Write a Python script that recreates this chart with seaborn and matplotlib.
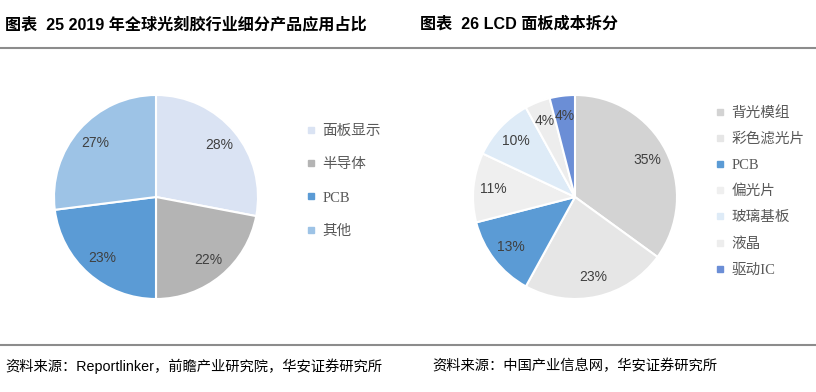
"""
Two pie charts side by side: photoresist application split (2019) and
LCD panel cost breakdown. Saves out.png (816x392).
"""

import matplotlib
matplotlib.use("Agg")
import matplotlib.pyplot as plt
from matplotlib.lines import Line2D
import seaborn as sns

# ── data ──────────────────────────────────────────────────────────────────────
resist_labels = ["面板显示", "半导体", "PCB", "其他"]
resist_values = [28, 22, 23, 27]
resist_colors = ["#DAE3F3", "#B4B4B4", "#5B9BD5", "#9DC3E6"]

lcd_labels = ["背光模组", "彩色滤光片", "PCB", "偏光片", "玻璃基板", "液晶", "驱动IC"]
lcd_values = [35, 23, 13, 11, 10, 4, 4]
lcd_colors = ["#D3D3D3", "#E6E6E6", "#5B9BD5", "#EFEFEF", "#DEEBF7", "#EDEDED", "#6B8ED6"]

title_left = "图表  25 2019 年全球光刻胶行业细分产品应用占比"
title_right = "图表  26 LCD 面板成本拆分"
source_left = "资料来源：Reportlinker，前瞻产业研究院，华安证券研究所"
source_right = "资料来源：中国产业信息网，华安证券研究所"

# ── style ─────────────────────────────────────────────────────────────────────
sns.set_theme(style="white")
SANS = ["Liberation Sans", "Noto Sans CJK SC"]
SERIF = ["Liberation Serif", "Noto Sans CJK SC"]
plt.rcParams["font.family"] = SANS

W, H = 816, 392
fig = plt.figure(figsize=(W / 100, H / 100), dpi=100, facecolor="white")


def px_axes(cx, cy, r):
    """Square axes centred on pixel (cx, cy) with radius r (pixels from top-left)."""
    return fig.add_axes([(cx - r) / W, (H - cy - r) / H, 2 * r / W, 2 * r / H])


def draw_pie(ax, values, colors):
    ax.pie(
        values, colors=colors, startangle=90, counterclock=False,
        autopct=lambda p: f"{p:.0f}%", pctdistance=0.8,
        wedgeprops={"edgecolor": "white", "linewidth": 1.5},
        textprops={"color": "#404040", "fontsize": 10, "family": SANS},
    )
    ax.set_xlim(-1, 1)
    ax.set_ylim(-1, 1)
    ax.set_aspect("equal")
    ax.axis("off")


def draw_legend(labels, colors, anchor, spacing):
    handles = [
        Line2D([], [], marker="s", linestyle="none", markersize=5,
               markerfacecolor=c, markeredgecolor=c)
        for c in colors
    ]
    leg = fig.legend(
        handles, labels, loc="upper left",
        bbox_to_anchor=(anchor[0] / W, 1 - anchor[1] / H),
        frameon=False, handlelength=0.6, handletextpad=0.45,
        labelspacing=spacing, borderaxespad=0, borderpad=0,
        prop={"family": SERIF, "size": 10.5},
    )
    for t in leg.get_texts():
        t.set_color("#595959")


ax1 = px_axes(156, 197, 102)
draw_pie(ax1, resist_values, resist_colors)
draw_legend(resist_labels, resist_colors, (307, 125), 1.37)

ax2 = px_axes(575, 197, 102)
draw_pie(ax2, lcd_values, lcd_colors)
draw_legend(lcd_labels, lcd_colors, (716, 106), 0.87)

# ── titles, rules, sources ────────────────────────────────────────────────────
fig.text(5 / W, 1 - 24 / H, title_left, fontsize=11.6, fontweight="bold",
         va="center", ha="left", color="black")
fig.text(420 / W, 1 - 24 / H, title_right, fontsize=11.6, fontweight="bold",
         va="center", ha="left", color="black")

for y in (48, 345):
    fig.add_artist(Line2D([0, 1], [1 - y / H, 1 - y / H], color="#8C8C8C",
                          linewidth=1.5, transform=fig.transFigure))

fig.text(5 / W, 1 - 366 / H, source_left, fontsize=10.3, va="center", ha="left",
         color="black")
fig.text(432 / W, 1 - 366 / H, source_right, fontsize=10.3, va="center", ha="left",
         color="black")

fig.savefig("out.png", dpi=100, facecolor="white")
